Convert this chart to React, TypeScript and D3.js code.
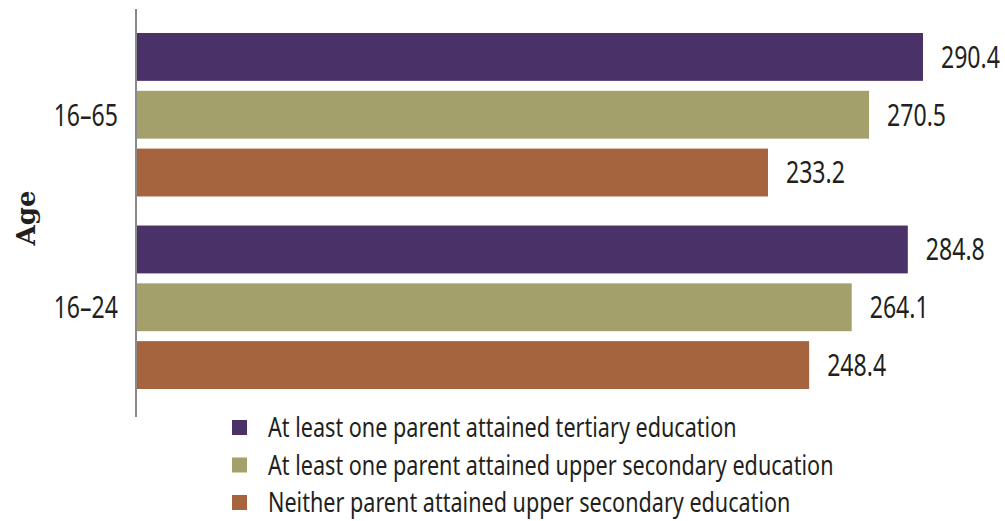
import React, { useRef, useEffect } from 'react';
import * as d3 from 'd3';

const ageGroups = ['16-65', '16-24'];
const seriesNames = [
    'At least one parent attained tertiary education',
    'At least one parent attained upper secondary education',
    'Neither parent attained upper secondary education',
];
const seriesColors = ['#4a3269', '#a4a06b', '#a5633e'];
const scores16to65 = [290.4, 270.5, 233.2];
const scores16to24 = [284.8, 264.1, 248.4];

const WIDTH = 1005;
const HEIGHT = 521;
const FONT = '"Noto Sans", sans-serif';

const App: React.FC = () => {
    const ref = useRef<SVGSVGElement | null>(null);

    useEffect(() => {
        if (!ref.current) return;
        const svg = d3.select(ref.current);
        svg.selectAll('*').remove();

        // the original uses a condensed face; squeeze a regular one to the same widths
        const measure = (txt: string, size: number) => {
            const t = svg.append('text').attr('font-family', FONT).attr('font-size', size).text(txt);
            const w = (t.node() as SVGTextElement).getComputedTextLength();
            t.remove();
            return w;
        };
        const valueSize = 30;
        const valueSx = 59 / measure('290.4', valueSize);
        const legendSize = 26.5;
        const legendSx = 469 / measure(seriesNames[0], legendSize);

        const rows = [scores16to65, scores16to24];

        const x = d3.scaleLinear().domain([0, 300]).range([136, 136 + 300 * 2.71]);
        const yGroup = d3.scaleBand<string>().domain(ageGroups).range([33, 389]).paddingInner(0.151);
        const yInner = d3.scaleBand<number>().domain(d3.range(seriesNames.length))
            .range([0, yGroup.bandwidth()]).paddingInner(0.172);

        const groups = svg.selectAll('g.group')
            .data(ageGroups)
            .join('g')
            .attr('class', 'group')
            .attr('transform', d => `translate(0,${yGroup(d)})`);

        groups.selectAll('rect')
            .data((d, i) => rows[i].map((v, j) => ({ v, j })))
            .join('rect')
            .attr('x', x(0))
            .attr('y', d => yInner(d.j)!)
            .attr('width', d => x(d.v) - x(0))
            .attr('height', yInner.bandwidth())
            .attr('fill', d => seriesColors[d.j]);

        groups.selectAll('g.value')
            .data((d, i) => rows[i].map((v, j) => ({ v, j })))
            .join('g')
            .attr('class', 'value')
            .attr('transform', d => `translate(${x(d.v) + 18},${yInner(d.j)! + yInner.bandwidth() / 2}) scale(${valueSx},1)`)
            .append('text')
            .attr('dy', '0.36em')
            .attr('font-family', FONT)
            .attr('font-size', valueSize)
            .attr('fill', '#231f20')
            .text(d => d.v.toFixed(1));

        groups.append('g')
            .attr('transform', `translate(118,${yGroup.bandwidth() / 2}) scale(${valueSx},1)`)
            .append('text')
            .attr('dy', '0.36em')
            .attr('text-anchor', 'end')
            .attr('font-family', FONT)
            .attr('font-size', valueSize)
            .attr('fill', '#231f20')
            .text(d => d.replace('-', '\u2013'));

        // vertical axis line
        svg.append('line')
            .attr('x1', x(0)).attr('x2', x(0))
            .attr('y1', 9).attr('y2', 417)
            .attr('stroke', '#8a8a8a')
            .attr('stroke-width', 2);

        // axis title
        svg.append('text')
            .attr('transform', `translate(35,${(yGroup.range()[0] + yGroup.range()[1]) / 2 + 7}) rotate(-90)`)
            .attr('text-anchor', 'middle')
            .attr('font-family', '"DejaVu Serif", serif')
            .attr('font-weight', 'bold')
            .attr('font-size', 26)
            .attr('fill', '#231f20')
            .text('Age');

        // legend
        const legend = svg.selectAll('g.legend')
            .data(seriesNames)
            .join('g')
            .attr('class', 'legend')
            .attr('transform', (d, i) => `translate(232,${420 + i * 37.5})`);

        legend.append('rect')
            .attr('width', 15)
            .attr('height', 15)
            .attr('fill', (d, i) => seriesColors[i]);

        legend.append('g')
            .attr('transform', `translate(36,7.5) scale(${legendSx},1)`)
            .append('text')
            .attr('dy', '0.36em')
            .attr('font-family', FONT)
            .attr('font-size', legendSize)
            .attr('fill', '#231f20')
            .text(d => d);
    }, []);

    return (
        <svg ref={ref} width={WIDTH} height={HEIGHT}
            style={{ display: 'block', position: 'absolute', left: 0, top: 0 }}></svg>
    );
};

export default App;
